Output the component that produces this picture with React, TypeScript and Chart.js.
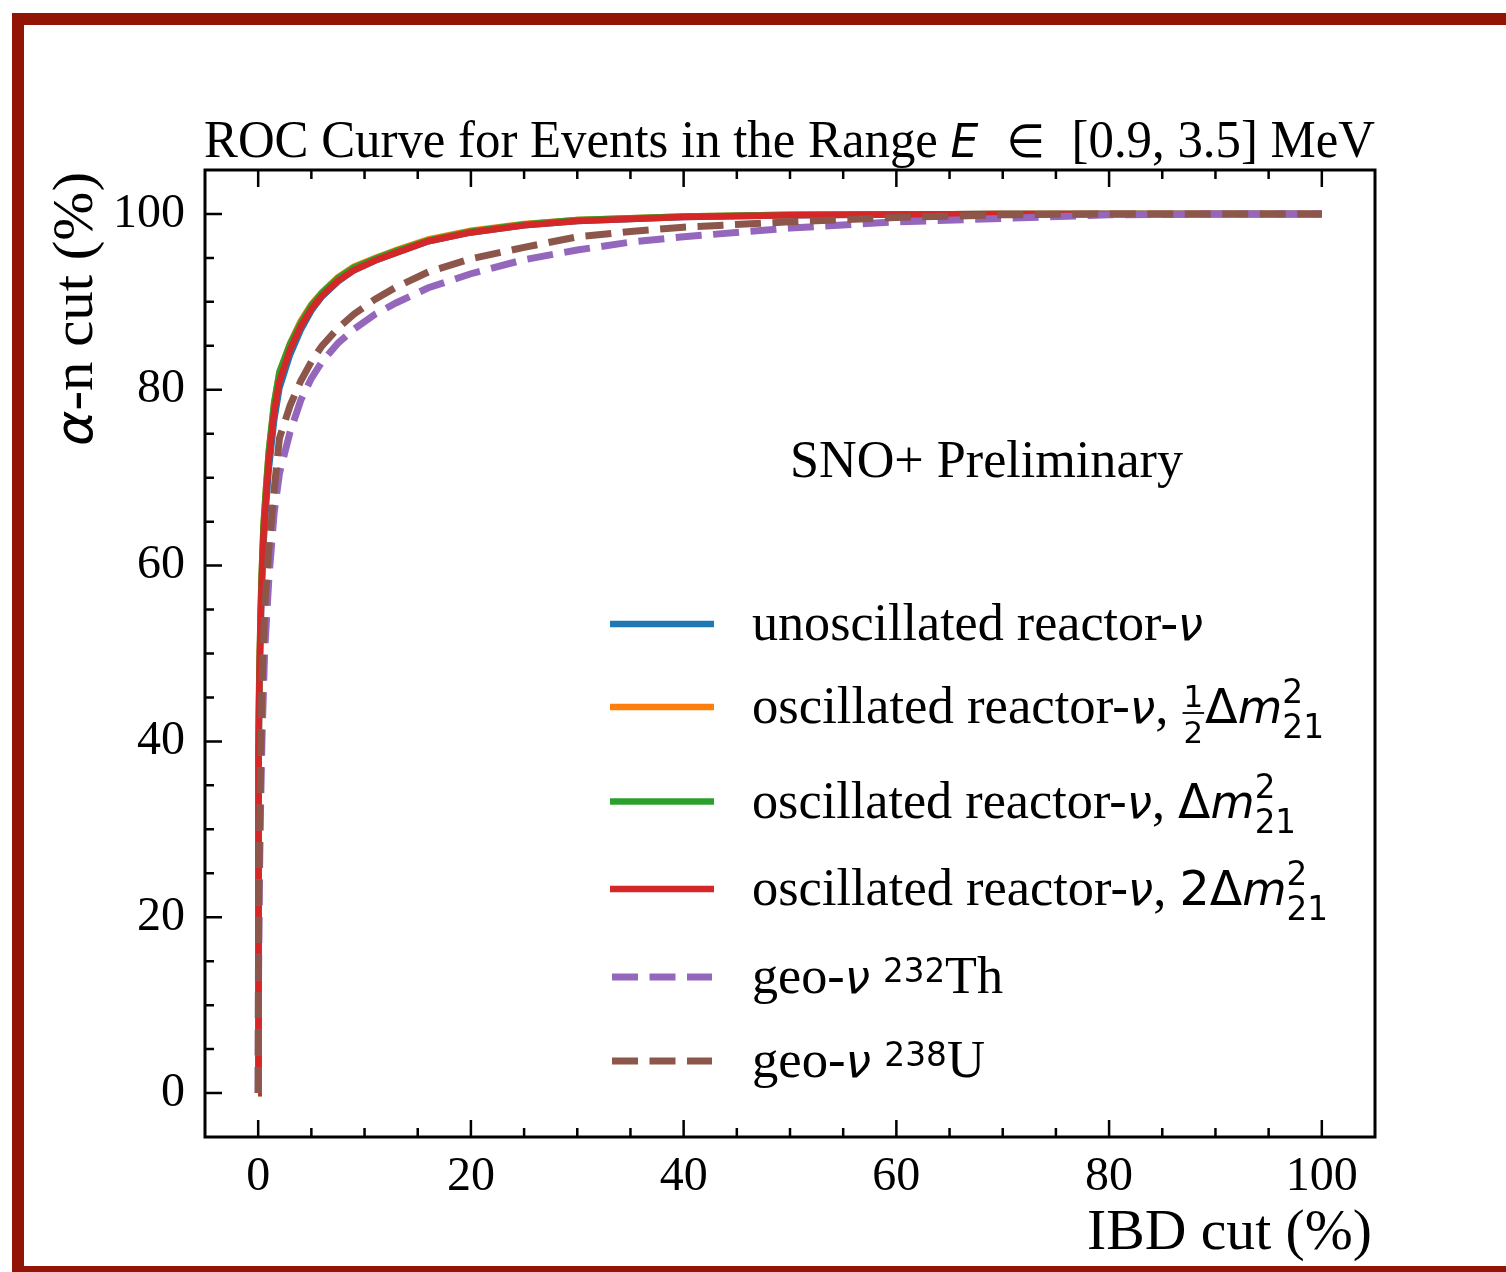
import React, { useEffect, useRef } from 'react';
import { Chart, registerables } from 'chart.js';

Chart.register(...registerables);

// ---- data ----
const IBD_REACTOR = [0, 0.02, 0.05, 0.1, 0.2, 0.3, 0.5, 0.75, 1.0, 1.5, 2.0, 3, 4, 5, 6, 7.5, 9, 11, 13, 16, 20, 25, 30, 40, 50, 60, 70, 80, 90, 100];
const UNOSC = [0, 24, 37, 45, 51, 56, 62.5, 67, 71, 76.5, 80.2, 84.0, 86.8, 89.0, 90.6, 92.3, 93.6, 94.7, 95.6, 96.9, 97.9, 98.7, 99.2, 99.65, 99.85, 99.95, 100, 100, 100, 100];
const OSC_HALF = [0, 26, 39, 47, 53, 58, 64.5, 69, 73, 78.5, 82, 85.3, 87.8, 89.7, 91.1, 92.8, 94.0, 95.0, 95.9, 97.1, 98.1, 98.85, 99.3, 99.7, 99.9, 99.95, 100, 100, 100, 100];
const OSC_ONE = [0, 26, 39, 47, 53, 58, 64.5, 69, 73, 78.5, 82, 85.2, 87.6, 89.6, 91.0, 92.7, 93.9, 94.9, 95.8, 97.0, 98.0, 98.8, 99.3, 99.7, 99.9, 99.95, 100, 100, 100, 100];
const OSC_TWO = [0, 25, 38, 46, 52, 57, 63.5, 68, 72, 77.5, 81, 84.6, 87.2, 89.2, 90.7, 92.4, 93.6, 94.7, 95.6, 96.9, 97.9, 98.7, 99.2, 99.65, 99.85, 99.95, 100, 100, 100, 100];
const IBD_GEO = [0, 0.02, 0.05, 0.1, 0.2, 0.35, 0.6, 1.0, 1.5, 2.0, 3, 4, 5, 6, 7.5, 9, 11, 13, 16, 20, 25, 30, 35, 40, 50, 60, 70, 80, 90, 100];
const GEO_TH = [0, 10, 16, 23, 31, 40, 50, 58.5, 66, 70.5, 75.2, 78.8, 81.3, 83.2, 85.3, 86.9, 88.6, 89.9, 91.6, 93.2, 94.8, 95.9, 96.8, 97.4, 98.4, 99.1, 99.5, 99.9, 100, 100];
const GEO_U = [0, 12, 20, 27, 35, 46, 55, 62, 68.6, 74.5, 78.2, 81.0, 83.2, 85.0, 87.0, 88.6, 90.3, 91.7, 93.4, 94.9, 96.2, 97.4, 98.0, 98.5, 99.1, 99.6, 99.9, 100, 100, 100];

const X_TICKS = [0, 20, 40, 60, 80, 100];
const Y_TICKS = [0, 20, 40, 60, 80, 100];
const MINOR_TICKS = [0, 5, 10, 15, 20, 25, 30, 35, 40, 45, 50, 55, 60, 65, 70, 75, 80, 85, 90, 95, 100];

const SERIES_LABELS = [
  'unoscillated reactor-ν',
  'oscillated reactor-ν, ½Δm²₂₁',
  'oscillated reactor-ν, Δm²₂₁',
  'oscillated reactor-ν, 2Δm²₂₁',
  'geo-ν ²³²Th',
  'geo-ν ²³⁸U',
];
const TITLE_MAIN = 'ROC Curve for Events in the Range ';
const TITLE_TAIL = ' [0.9, 3.5] MeV';
const X_TITLE = 'IBD cut (%)';
const Y_TITLE_TAIL = '-n cut (%)';
const ANNOTATION = 'SNO+ Preliminary';

// ---- styles ----
const COLORS = ['#1f77b4', '#ff7f0e', '#2ca02c', '#d62728', '#9467bd', '#8c564b'];
const DASHES: number[][] = [[], [], [], [], [26, 11.5], [26, 11.5]];
const SERIF = "'Liberation Serif', 'Times New Roman', serif";
const SANS = "'DejaVu Sans', sans-serif";
const f = (size: number, fam: string, style = '') => `${style ? style + ' ' : ''}${size}px ${fam}`;

type Seg =
  | { kind: 't'; text: string; font: string; dy?: number }
  | { kind: 'frac'; num: string; den: string; font: string; numDy: number; denDy: number; barDy: number }
  | { kind: 'ss'; sup: string; sub: string; font: string; supDy: number; subDy: number };

function segWidth(ctx: CanvasRenderingContext2D, s: Seg): number {
  ctx.font = s.font;
  if (s.kind === 't') return ctx.measureText(s.text).width;
  if (s.kind === 'frac') return Math.max(ctx.measureText(s.num).width, ctx.measureText(s.den).width) + 4;
  return Math.max(ctx.measureText(s.sup).width, ctx.measureText(s.sub).width) + 2;
}

function drawSegs(ctx: CanvasRenderingContext2D, segs: Seg[], x: number, y: number, targetW: number, align: 'left' | 'center' | 'right' = 'left') {
  const nat = segs.reduce((a, s) => a + segWidth(ctx, s), 0);
  const sx = targetW > 0 ? targetW / nat : 1;
  const total = nat * sx;
  const x0 = align === 'left' ? x : align === 'center' ? x - total / 2 : x - total;
  ctx.save();
  ctx.translate(x0, y);
  ctx.scale(sx, 1);
  ctx.textAlign = 'left';
  ctx.textBaseline = 'alphabetic';
  ctx.fillStyle = '#000';
  ctx.strokeStyle = '#000';
  let cx = 0;
  for (const s of segs) {
    const w = segWidth(ctx, s);
    ctx.font = s.font;
    if (s.kind === 't') {
      ctx.fillText(s.text, cx, s.dy || 0);
    } else if (s.kind === 'frac') {
      const wn = ctx.measureText(s.num).width;
      const wd = ctx.measureText(s.den).width;
      ctx.fillText(s.num, cx + (w - wn) / 2, s.numDy);
      ctx.fillText(s.den, cx + (w - wd) / 2, s.denDy);
      ctx.lineWidth = 1.8;
      ctx.beginPath();
      ctx.moveTo(cx + 1, s.barDy);
      ctx.lineTo(cx + w - 1, s.barDy);
      ctx.stroke();
    } else {
      ctx.fillText(s.sup, cx, s.supDy);
      ctx.fillText(s.sub, cx, s.subDy);
    }
    cx += w;
  }
  ctx.restore();
}

const T = (text: string, font: string, dy = 0): Seg => ({ kind: 't', text, font, dy });
const LEG_SERIF = f(53, SERIF);
const LEG_MATH = f(48, SANS);
const LEG_MATH_I = f(46, SANS, 'italic');
const LEG_SMALL = f(33, SANS);

function legendSegs(i: number): Seg[] {
  const nu = [T('oscillated reactor-', LEG_SERIF), T('ν', LEG_MATH_I), T(', ', LEG_SERIF)];
  const m21: Seg = { kind: 'ss', sup: '2', sub: '21', font: LEG_SMALL, supDy: -20, subDy: 15 };
  switch (i) {
    case 0: return [T('unoscillated reactor-', LEG_SERIF), T('ν', LEG_MATH_I)];
    case 1: return [...nu, { kind: 'frac', num: '1', den: '2', font: f(31, SANS), numDy: -16, denDy: 20, barDy: -10 }, T('Δ', LEG_MATH), T('m', LEG_MATH_I), m21];
    case 2: return [...nu, T('Δ', LEG_MATH), T('m', LEG_MATH_I), m21];
    case 3: return [...nu, T('2Δ', LEG_MATH), T('m', LEG_MATH_I), m21];
    case 4: return [T('geo-', LEG_SERIF), T('ν', LEG_MATH_I), T(' ', LEG_SERIF), T('232', LEG_SMALL, -11), T('Th', LEG_SERIF)];
    default: return [T('geo-', LEG_SERIF), T('ν', LEG_MATH_I), T(' ', LEG_SERIF), T('238', LEG_SMALL, -11), T('U', LEG_SERIF)];
  }
}

const LEGEND_ROW_Y = [624, 707, 801.5, 889, 977, 1061];
const LEGEND_TEXT_W = [451, 574, 546, 578, 251, 233];

const decorPlugin = {
  id: 'decor',
  afterDraw(chart: any) {
    const ctx: CanvasRenderingContext2D = chart.ctx;
    const { left, right, top, bottom } = chart.chartArea;
    const xs = chart.scales.x;
    const ys = chart.scales.y;
    ctx.save();
    // ticks (inward), left / bottom / top
    ctx.strokeStyle = '#000';
    ctx.lineWidth = 2.5;
    ctx.beginPath();
    for (const v of MINOR_TICKS) {
      const major = X_TICKS.includes(v);
      const len = major ? 17 : 9;
      const px = xs.getPixelForValue(v);
      ctx.moveTo(px, bottom);
      ctx.lineTo(px, bottom - len);
      ctx.moveTo(px, top);
      ctx.lineTo(px, top + len);
      const majorY = Y_TICKS.includes(v);
      const py = ys.getPixelForValue(v);
      ctx.moveTo(left, py);
      ctx.lineTo(left + (majorY ? 17 : 9), py);
    }
    ctx.stroke();
    // frame
    ctx.lineWidth = 3;
    ctx.strokeRect(left, top, right - left, bottom - top);

    // title
    drawSegs(ctx, [T(TITLE_MAIN, f(53, SERIF)), T('E', f(46, SANS, 'italic')), T('  ∈ ', f(46, SANS)), T(TITLE_TAIL, f(53, SERIF))], 204, 157, 1171, 'left');
    // x title
    drawSegs(ctx, [T(X_TITLE, f(57, SERIF))], 1372, 1249, 285, 'right');
    // y title rotated
    ctx.save();
    ctx.translate(92, 446);
    ctx.rotate(-Math.PI / 2);
    drawSegs(ctx, [T('α', f(52, SANS, 'italic')), T(Y_TITLE_TAIL, f(57, SERIF))], 0, 0, 274, 'left');
    ctx.restore();
    // annotation
    drawSegs(ctx, [T(ANNOTATION, f(53, SERIF))], 986.5, 477, 393, 'center');

    // legend
    chart.data.datasets.forEach((ds: any, i: number) => {
      const y = LEGEND_ROW_Y[i];
      ctx.save();
      ctx.strokeStyle = ds.borderColor;
      ctx.lineWidth = ds.borderWidth;
      ctx.lineCap = 'butt';
      ctx.setLineDash(ds.borderDash || []);
      ctx.beginPath();
      if (ds.borderDash && ds.borderDash.length) {
        ctx.moveTo(612, y);
        ctx.lineTo(712, y);
      } else {
        ctx.moveTo(610, y);
        ctx.lineTo(714, y);
      }
      ctx.stroke();
      ctx.restore();
      drawSegs(ctx, legendSegs(i), 752, y + 16, LEGEND_TEXT_W[i], 'left');
    });
    ctx.restore();
  },
};

export default function App() {
  const ref = useRef<HTMLCanvasElement | null>(null);

  useEffect(() => {
    if (!ref.current) return;
    const xsets = [IBD_REACTOR, IBD_REACTOR, IBD_REACTOR, IBD_REACTOR, IBD_GEO, IBD_GEO];
    const ysets = [UNOSC, OSC_HALF, OSC_ONE, OSC_TWO, GEO_TH, GEO_U];
    const datasets = ysets.map((ys, i) => ({
      label: SERIES_LABELS[i],
      data: ys.map((v, k) => ({ x: xsets[i][k], y: v })),
      borderColor: COLORS[i],
      backgroundColor: COLORS[i],
      borderWidth: i >= 4 ? 7 : 6.5,
      borderDash: DASHES[i],
      borderCapStyle: 'butt' as const,
      pointRadius: 0,
      fill: false,
      tension: 0,
      order: 6 - i,
    }));
    const tickFont = { family: SERIF, size: 48 };
    const chart = new Chart(ref.current, {
      type: 'line',
      data: { datasets },
      options: {
        animation: false,
        responsive: false,
        devicePixelRatio: 1,
        layout: { padding: { left: 0, top: 170, right: 131, bottom: 0 } },
        plugins: { legend: { display: false }, tooltip: { enabled: false }, title: { display: false } },
        scales: {
          x: {
            type: 'linear',
            min: -5,
            max: 105,
            grid: { display: false, drawTicks: false },
            border: { display: false },
            ticks: { font: tickFont, color: '#000', padding: 12, maxRotation: 0, autoSkip: false },
            afterBuildTicks: (s: any) => { s.ticks = X_TICKS.map((v) => ({ value: v })); },
            afterFit: (s: any) => { s.height = 135; },
          },
          y: {
            type: 'linear',
            min: -5,
            max: 105,
            grid: { display: false, drawTicks: false },
            border: { display: false },
            ticks: { font: tickFont, color: '#000', padding: 20, autoSkip: false },
            afterBuildTicks: (s: any) => { s.ticks = Y_TICKS.map((v) => ({ value: v })); },
            afterFit: (s: any) => { s.width = 205; },
          },
        },
      } as any,
      plugins: [decorPlugin],
    });
    return () => chart.destroy();
  }, []);

  return (
    <div style={{ position: 'absolute', left: 0, top: 0, width: 1506, height: 1272, overflow: 'hidden', background: '#fff' }}>
      <canvas ref={ref} width={1506} height={1272} style={{ position: 'absolute', left: 0, top: 0, width: 1506, height: 1272 }} />
      <div style={{ position: 'absolute', left: 12, top: 13, width: 1530, height: 1265, border: '12px solid #921405', boxSizing: 'border-box' }} />
    </div>
  );
}
